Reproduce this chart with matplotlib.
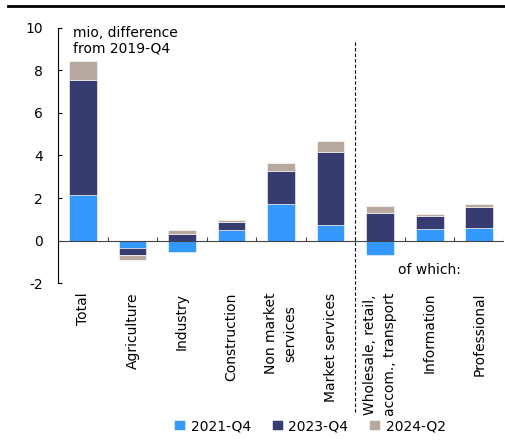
import numpy as np
import matplotlib
matplotlib.use('Agg')
import matplotlib.pyplot as plt
from matplotlib.lines import Line2D

# categories and the three stacked series (contributions, mio)
sectores = ['Total', 'Agriculture', 'Industry', 'Construction', 'Non market\nservices',
            'Market services', 'Wholesale, retail,\naccom., transport', 'Information', 'Professional']
q4_2021 = [2.16, -0.36, -0.56, 0.52, 1.72, 0.72, -0.67, 0.55, 0.58]
q4_2023 = [5.37, -0.34, 0.33, 0.33, 1.54, 3.46, 1.28, 0.59, 1.00]
q2_2024 = [0.92, -0.22, 0.15, 0.14, 0.37, 0.51, 0.33, 0.13, 0.12]
series = ['2021-Q4', '2023-Q4', '2024-Q2']
colores = ['#3399FF', '#363C70', '#B8A9A0']

plt.rcParams['font.family'] = ['DejaVu Sans']
plt.rcParams['axes.unicode_minus'] = False
fig = plt.figure(figsize=(5.05, 4.41), dpi=100)
ax = fig.add_axes([0.115, 0.358, 0.883, 0.579])

x = np.arange(len(sectores))
pos_base = np.zeros(len(sectores))
neg_base = np.zeros(len(sectores))
for vals, nombre, col in zip([q4_2021, q4_2023, q2_2024], series, colores):
    v = np.array(vals)
    base = np.where(v >= 0, pos_base, neg_base)
    ax.bar(x, v, bottom=base, width=0.56, color=col, label=nombre,
           edgecolor='white', linewidth=0.4)
    pos_base = pos_base + np.where(v >= 0, v, 0)
    neg_base = neg_base + np.where(v < 0, v, 0)

ax.set_xlim(-0.5, len(sectores) - 0.5)
ax.set_ylim(-2, 10)
ax.set_yticks(np.arange(-2, 11, 2))
ax.tick_params(axis='y', direction='in', length=3, pad=11, labelsize=10)
ax.set_xticks(x)
ax.set_xticklabels(sectores, rotation=90, ha='center', va='top',
                   multialignment='center', fontsize=10, linespacing=1.5)
ax.tick_params(axis='x', length=0, pad=7)

for s in ['top', 'right', 'bottom']:
    ax.spines[s].set_visible(False)
ax.spines['left'].set_linewidth(0.8)

# zero line with category separators
ax.axhline(0, color='#444444', lw=0.8)
ax.vlines(np.arange(1, len(sectores) + 1) - 0.5, 0, 0.19, color='#444444', lw=0.8)

# dashed separator for "of which"
ax.axvline(5.5, ymin=-0.506, ymax=0.95, color='black', lw=0.8,
           linestyle=(0, (3, 2)), clip_on=False)
ax.text(7, -1.36, 'of which:', ha='center', va='center', fontsize=10)
ax.text(-0.2, 10.1, 'mio, difference\nfrom 2019-Q4', ha='left', va='top', fontsize=10)

fig.add_artist(Line2D([0.016, 1.0], [0.986, 0.986], color='black', lw=2))

fig.legend(loc='center', bbox_to_anchor=(0.614, 0.034), ncol=3, frameon=False,
           fontsize=10, handlelength=0.8, handleheight=0.8, handletextpad=0.4,
           columnspacing=1.5, borderaxespad=0)

fig.savefig('out.png', dpi=100)
